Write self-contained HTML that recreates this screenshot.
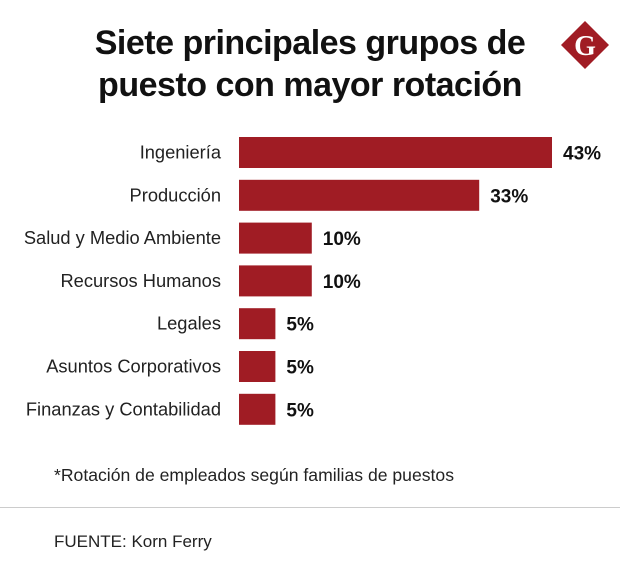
<!DOCTYPE html>
<html><head><meta charset="utf-8"><style>
body{margin:0;width:620px;height:574px;background:#fff;font-family:"Liberation Sans",sans-serif;overflow:hidden;position:relative}
.title{position:absolute;left:0;width:620px;top:22px;text-align:center;font-weight:bold;font-size:34px;line-height:42px;color:#111;letter-spacing:-0.5px}
</style></head><body>
<div class="title">Siete principales grupos de<br>puesto con mayor rotación</div>
<svg style="position:absolute;left:560px;top:20px" width="50" height="50" viewBox="0 0 50 50">
<polygon points="25,1 49,25 25,49 1,25" fill="#a01c24"/>
<text x="25" y="35" text-anchor="middle" font-family="Liberation Serif,serif" font-weight="bold" font-size="28" fill="#fff">G</text>
</svg>
<svg id="chart" style="position:absolute;left:0;top:0" width="620" height="574"></svg>
<div style="position:absolute;left:54px;top:465px;font-size:17.6px;color:#222">*Rotación de empleados según familias de puestos</div>
<div style="position:absolute;left:0;top:507px;width:620px;height:1px;background:#ccc"></div>
<div style="position:absolute;left:54px;top:532px;font-size:17px;color:#222">FUENTE: Korn Ferry</div>
<script>
const categories=["Ingeniería","Producción","Salud y Medio Ambiente","Recursos Humanos","Legales","Asuntos Corporativos","Finanzas y Contabilidad"];
const values=[43,33,10,10,5,5,5];
const labels=["43%","33%","10%","10%","5%","5%","5%"];
const svg=document.getElementById('chart');const NS='http://www.w3.org/2000/svg';
const x0=239,scale=313/43,top0=137,pitch=42.8,bh=31;
const xs=v=>v*scale;const ys=i=>top0+i*pitch;
categories.forEach((c,i)=>{
 const y=ys(i),w=xs(values[i]);
 const r=document.createElementNS(NS,'rect');
 r.setAttribute('x',x0);r.setAttribute('y',y);r.setAttribute('width',w);r.setAttribute('height',bh);r.setAttribute('fill','#a01c24');
 
 
 svg.appendChild(r);
 const t=document.createElementNS(NS,'text');
 t.setAttribute('x',221);t.setAttribute('y',y+bh/2+6);t.setAttribute('text-anchor','end');t.setAttribute('font-size','18.3');t.setAttribute('fill','#222');t.setAttribute('font-family','Liberation Sans, sans-serif');
 t.textContent=c;
 
 
 svg.appendChild(t);
 const v=document.createElementNS(NS,'text');
 v.setAttribute('x',x0+w+11);v.setAttribute('y',y+bh/2+7);v.setAttribute('font-size','19');v.setAttribute('font-weight','bold');v.setAttribute('fill','#111');v.setAttribute('font-family','Liberation Sans, sans-serif');
 v.textContent=labels[i];
 
 
 svg.appendChild(v);
});
</script>
</body></html>
